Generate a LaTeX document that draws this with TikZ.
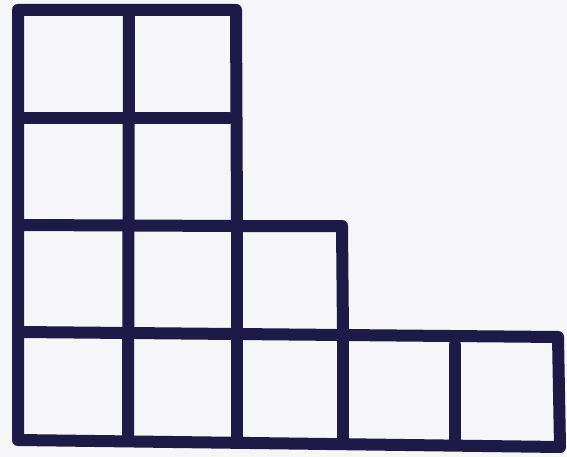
\documentclass[tikz,border=0pt]{standalone}
\begin{document}
\begin{tikzpicture}[x=1pt,y=-1pt,
  stroke/.style={line width=12pt,draw=ink,line cap=round,line join=round}]
\definecolor{ink}{RGB}{30,26,72}
\definecolor{paper}{RGB}{246,246,248}
\fill[paper] (0,0) rectangle (567,457);
\useasboundingbox (0,0) rectangle (567,457);
% outer outline
\draw[stroke] (18,10) -- (236,10) -- (237,226) -- (342,226) -- (343,335) -- (558,337) -- (560,447) -- (18,440) -- cycle;
% interior vertical lines
\draw[stroke] (129,12) -- (128,440);
\draw[stroke] (237,226) -- (237,441);
\draw[stroke] (343,335) -- (343,442);
\draw[stroke] (455,345) -- (455,444);
% interior horizontal lines
\draw[stroke] (20,118) -- (229,118);
\draw[stroke] (20,225) -- (237,226);
\draw[stroke] (20,332) -- (343,335);
\end{tikzpicture}
\end{document}
